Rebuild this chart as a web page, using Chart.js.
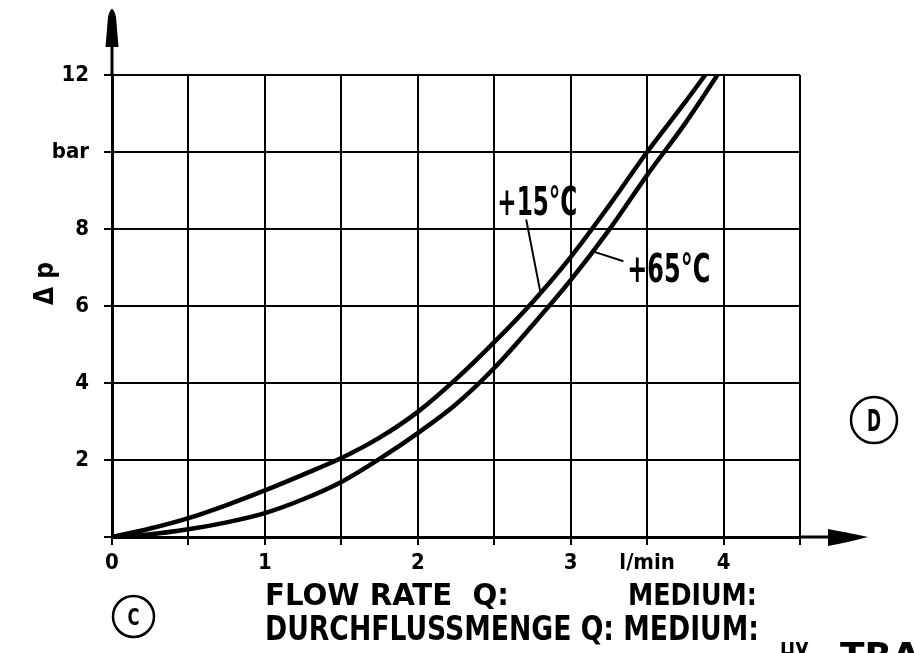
<!DOCTYPE html>
<html>
<head>
<meta charset="utf-8">
<script src="https://cdn.jsdelivr.net/npm/chart.js@4/dist/chart.umd.min.js"></script>
<style>
  html, body { margin: 0; padding: 0; background: #fff; }
  canvas { display: block; }
</style>
</head>
<body>
<canvas id="chart" width="914" height="653"></canvas>
<script>
// flow rate Q (l/min) and pressure drop (bar)
const flowQ15 = [0, 0.25, 0.5, 0.75, 1, 1.25, 1.5, 1.75, 2, 2.25, 2.5, 2.75, 3, 3.25, 3.5, 3.75, 3.88];
const dp15 = [0, 0.22, 0.49, 0.83, 1.21, 1.62, 2.05, 2.58, 3.25, 4.1, 5.06, 6.1, 7.27, 8.6, 10.0, 11.3, 12];
const flowQ65 = [0, 0.25, 0.5, 0.75, 1, 1.25, 1.5, 1.75, 2, 2.25, 2.5, 2.75, 3, 3.25, 3.5, 3.75, 3.96];
const dp65 = [0, 0.07, 0.2, 0.38, 0.62, 0.98, 1.43, 2.03, 2.7, 3.45, 4.39, 5.5, 6.67, 7.97, 9.4, 10.75, 12];

const seriesNames = ['+15°C', '+65°C'];
const xTickLabels = ['0', '', '1', '', '2', '', '3', 'l/min', '4', ''];
const yTickLabels = ['', '2', '4', '6', '8', 'bar', '12'];

const FONT = '"DejaVu Sans Condensed", "DejaVu Sans", sans-serif';

// draw text squeezed to a given width and cap height (drafting lettering is very narrow)
function fitText(ctx, text, x, baseline, width, capH, weight) {
  ctx.font = (weight || 'bold') + ' ' + (capH / 0.73).toFixed(1) + 'px ' + FONT;
  const w = ctx.measureText(text).width;
  ctx.save();
  ctx.translate(x, baseline);
  ctx.scale(width / w, 1);
  ctx.fillText(text, 0, 0);
  ctx.restore();
}

function circledLetter(ctx, letter, cx, cy, r, w, capH) {
  ctx.beginPath();
  ctx.arc(cx, cy, r, 0, Math.PI * 2);
  ctx.lineWidth = 2.5;
  ctx.stroke();
  fitText(ctx, letter, cx - w / 2, cy + capH / 2, w, capH, 'bold');
}

const drawingExtras = {
  id: 'drawingExtras',
  afterDraw(chart) {
    const ctx = chart.ctx;
    const xs = chart.scales.x, ys = chart.scales.y;
    const area = chart.chartArea;
    const px = v => xs.getPixelForValue(v);
    const py = v => ys.getPixelForValue(v);
    ctx.save();
    ctx.fillStyle = '#000';
    ctx.strokeStyle = '#000';
    ctx.lineCap = 'round';

    // y axis arrow
    const ax = area.left;
    ctx.lineWidth = 3;
    ctx.beginPath();
    ctx.moveTo(ax, area.top);
    ctx.lineTo(ax, area.top - 30);
    ctx.stroke();
    ctx.beginPath();
    ctx.moveTo(ax - 6.5, area.top - 28);
    ctx.lineTo(ax - 4, area.top - 58);
    ctx.quadraticCurveTo(ax, area.top - 74, ax + 4, area.top - 58);
    ctx.lineTo(ax + 6.5, area.top - 28);
    ctx.closePath();
    ctx.fill();

    // x axis arrow
    const ay = area.bottom;
    ctx.beginPath();
    ctx.moveTo(area.right, ay);
    ctx.lineTo(area.right + 30, ay);
    ctx.stroke();
    ctx.beginPath();
    ctx.moveTo(area.right + 28, ay - 8);
    ctx.quadraticCurveTo(area.right + 45, ay - 5, area.right + 68, ay);
    ctx.quadraticCurveTo(area.right + 45, ay + 6, area.right + 28, ay + 9);
    ctx.closePath();
    ctx.fill();

    // curve labels with leader lines
    ctx.lineWidth = 2;
    ctx.beginPath();
    ctx.moveTo(px(2.71), py(8.23));
    ctx.lineTo(px(2.80), py(6.4));
    ctx.moveTo(px(3.16), py(7.4));
    ctx.lineTo(px(3.34), py(7.17));
    ctx.stroke();
    fitText(ctx, seriesNames[0], px(2.52), py(8.36), 80, 28);
    fitText(ctx, seriesNames[1], px(3.37), py(6.62), 83, 29);

    // rotated axis title
    ctx.save();
    ctx.translate(53, 305);
    ctx.rotate(-Math.PI / 2);
    ctx.font = 'bold 26px ' + FONT;
    ctx.fillText('\u0394 p', 0, 0);
    ctx.restore();

    // lettering below the diagram
    fitText(ctx, 'FLOW RATE  Q:', 265, 605, 244, 22);
    fitText(ctx, 'MEDIUM:', 628, 605, 129, 22);
    fitText(ctx, 'DURCHFLUSSMENGE Q: MEDIUM:', 265, 640, 494, 24);
    fitText(ctx, 'HX', 780, 667, 29, 25);
    fitText(ctx, 'TRA', 840, 667, 80, 25);

    circledLetter(ctx, 'C', 133.5, 616.5, 20.5, 12, 17);
    circledLetter(ctx, 'D', 874, 420, 23, 14, 22);
    ctx.restore();
  }
};

const tickFont = { family: FONT, size: 22, weight: 'bold' };

new Chart(document.getElementById('chart'), {
  type: 'line',
  data: {
    datasets: [
      {
        label: seriesNames[0],
        data: flowQ15.map((q, i) => ({ x: q, y: dp15[i] })),
        borderColor: '#000',
        borderWidth: 4.5,
        pointRadius: 0,
        cubicInterpolationMode: 'monotone',
      },
      {
        label: seriesNames[1],
        data: flowQ65.map((q, i) => ({ x: q, y: dp65[i] })),
        borderColor: '#000',
        borderWidth: 4.5,
        pointRadius: 0,
        cubicInterpolationMode: 'monotone',
      },
    ],
  },
  options: {
    responsive: false,
    animation: false,
    devicePixelRatio: 1,
    layout: { padding: { top: 75, right: 114, bottom: 0, left: 0 } },
    plugins: {
      legend: { display: false },
      tooltip: { enabled: false },
    },
    scales: {
      x: {
        type: 'linear',
        min: 0,
        max: 4.5,
        afterFit: (scale) => { scale.height = 116; },
        ticks: {
          stepSize: 0.5,
          autoSkip: false,
          maxRotation: 0,
          color: '#000',
          font: tickFont,
          padding: 5,
          callback: (value, index) => xTickLabels[index],
        },
        grid: { color: '#000', lineWidth: 2, tickLength: 8 },
        border: { color: '#000', width: 3 },
      },
      y: {
        min: 0,
        max: 12,
        afterFit: (scale) => { scale.width = 112; },
        ticks: {
          stepSize: 2,
          autoSkip: false,
          color: '#000',
          font: tickFont,
          padding: 15,
          callback: (value, index) => yTickLabels[index],
        },
        grid: { color: '#000', lineWidth: 2, tickLength: 8 },
        border: { color: '#000', width: 3 },
      },
    },
  },
  plugins: [drawingExtras],
});
</script>
</body>
</html>
